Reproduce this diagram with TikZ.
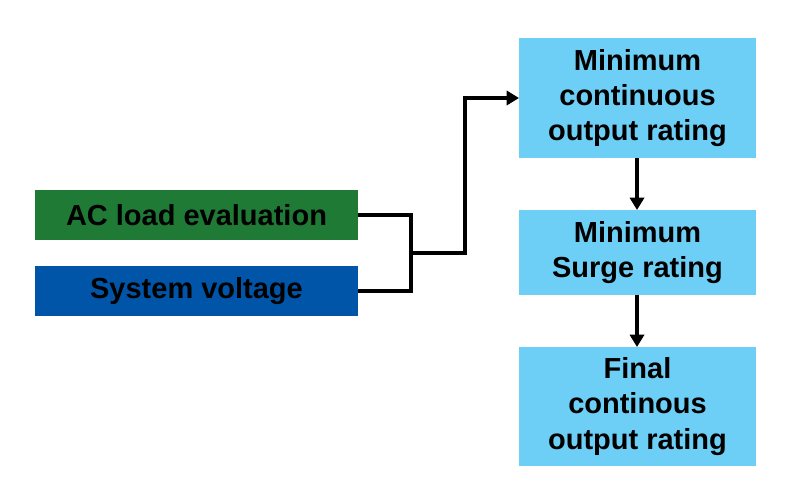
\documentclass[tikz,border=0pt]{standalone}
\usepackage{fontspec}
\setmainfont{Liberation Sans}
\usetikzlibrary{arrows.meta}
\definecolor{gbox}{HTML}{1F7A36}
\definecolor{bbox}{HTML}{0055A8}
\definecolor{lbox}{HTML}{6DCFF6}
\begin{document}
\begin{tikzpicture}[x=0.02cm,y=-0.02cm,
  txt/.style={font=\fontsize{16.5pt}{20pt}\selectfont\bfseries,align=center,inner sep=0},
  box/.style={draw=none},
  con/.style={line width=2.3pt},
  arr/.style={con,-{Triangle[length=7pt,width=8pt]}}]
\useasboundingbox (0,0) rectangle (800,500);
\fill[gbox] (35,190) rectangle (358,240);
\node[txt] (ac) at (196.5,215) {AC load evaluation};
\coordinate (acr) at (358,215);
\fill[bbox] (35,266) rectangle (358,316);
\node[txt] (sv) at (196.5,291) {System voltage};
\coordinate (svr) at (358,291);
\fill[lbox] (519,38) rectangle (756,158);
\node[txt] (m1) at (637.5,98) {Minimum\\continuous\\output rating};
\fill[lbox] (519,210) rectangle (756,295);
\node[txt] (m2) at (637.5,252.5) {Minimum\\Surge rating};
\fill[lbox] (519,347) rectangle (756,466);
\node[txt] (m3) at (637.5,406.5) {Final\\continous\\output rating};
\coordinate (m1l) at (519,98);
\coordinate (m1b) at (637,158);
\coordinate (m2t) at (637,210);
\coordinate (m2b) at (637,295);
\coordinate (m3t) at (637,347);
\coordinate (j) at (411,253);
\draw[con] (acr) -- (411,215) -- (411,291) -- (svr);
\draw[arr] (j) -- (465,253) -- (465,98) -- (m1l);
\draw[arr] (m1b) -- (m2t);
\draw[arr] (m2b) -- (m3t);
\end{tikzpicture}
\end{document}
